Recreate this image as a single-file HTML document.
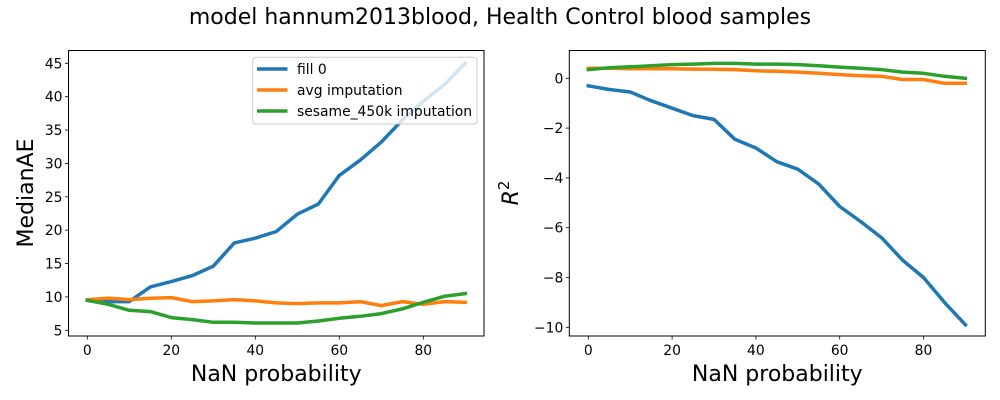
<!DOCTYPE html>
<html><head><meta charset="utf-8"><style>
html,body{margin:0;padding:0;background:#fff;}
svg{display:block;font-family:"DejaVu Sans","Liberation Sans",sans-serif;}
</style></head><body>
<svg id="chart" width="1000" height="400" viewBox="0 0 1000 400" xmlns="http://www.w3.org/2000/svg">
<rect width="1000" height="400" fill="#fff"/>
<text x="500" y="24" text-anchor="middle" font-size="22" fill="#000">model hannum2013blood, Health Control blood samples</text>
<g id="left"></g>
<g id="right"></g>
</svg>
<script>
const xCats = [0,5,10,15,20,25,30,35,40,45,50,55,60,65,70,75,80,85,90];
const xTicks = [0,20,40,60,80];
const maeFill0 = [9.5,9.3,9.3,11.5,12.3,13.2,14.6,18.1,18.8,19.8,22.4,23.9,28.2,30.5,33.2,36.5,39.3,41.8,45];
const maeAvg = [9.6,9.8,9.6,9.8,9.9,9.3,9.4,9.6,9.4,9.1,9.0,9.1,9.1,9.3,8.7,9.3,8.9,9.3,9.2];
const maeSesame = [9.5,8.9,8.0,7.8,6.9,6.6,6.2,6.2,6.1,6.1,6.1,6.4,6.8,7.1,7.5,8.2,9.2,10.1,10.5];
const maeTicks = [5,10,15,20,25,30,35,40,45];
const r2Fill0 = [-0.3,-0.45,-0.55,-0.9,-1.2,-1.5,-1.65,-2.45,-2.8,-3.35,-3.65,-4.25,-5.15,-5.75,-6.4,-7.3,-8.0,-9.0,-9.9];
const r2Avg = [0.4,0.4,0.38,0.38,0.38,0.37,0.36,0.35,0.3,0.28,0.25,0.2,0.15,0.1,0.08,-0.05,-0.05,-0.2,-0.2];
const r2Sesame = [0.35,0.42,0.46,0.5,0.55,0.57,0.6,0.6,0.57,0.57,0.55,0.5,0.45,0.4,0.35,0.25,0.2,0.08,0.0];
const r2Ticks = [0,-2,-4,-6,-8,-10];
const r2TickLabels = ["0","\u22122","\u22124","\u22126","\u22128","\u221210"];
const seriesNames = ["fill 0","avg imputation","sesame_450k imputation"];
const colors = ["#1f77b4","#ff7f0e","#2ca02c"];
const NS="http://www.w3.org/2000/svg";
function mk(parent,tag,attrs,text){const e=document.createElementNS(NS,tag);for(const k in attrs)e.setAttribute(k,attrs[k]);if(text!==undefined)e.textContent=text;parent.appendChild(e);return e;}

function panel(g,box,xmap,ymap,yTicks,yLabels,series,prefix){
  series.forEach((vals,si)=>{
    const pts=vals.map((v,i)=>xmap(xCats[i]).toFixed(1)+","+ymap(v).toFixed(1)).join(" ");
    const pl=mk(g,"polyline",{points:pts,fill:"none",stroke:colors[si],"stroke-width":3.5,"stroke-linejoin":"round","stroke-linecap":"square"});
    
    
  });
  const fr=mk(g,"rect",{x:box.x0,y:box.y0,width:box.x1-box.x0,height:box.y1-box.y0,fill:"none",stroke:"#000","stroke-width":1});
  
  
  xTicks.forEach(t=>{
    const x=xmap(t);
    mk(g,"line",{x1:x,x2:x,y1:box.y1,y2:box.y1+3.5,stroke:"#000","stroke-width":0.8});
    const tl=mk(g,"text",{x:x,y:box.y1+19,"text-anchor":"middle","font-size":"13.9"},String(t));
    
    
  });
  yTicks.forEach((t,i)=>{
    const y=ymap(t);
    mk(g,"line",{x1:box.x0-3.5,x2:box.x0,y1:y,y2:y,stroke:"#000","stroke-width":0.8});
    const tl=mk(g,"text",{x:box.x0-6,y:y+5,"text-anchor":"end","font-size":"13.9"},yLabels[i]);
    
    
  });
  const xt=mk(g,"text",{x:(box.x0+box.x1)/2,y:381,"text-anchor":"middle","font-size":"22"},"NaN probability");
  
  
}

const L={x0:68.5,x1:484,y0:50.5,y1:336};
const lx=v=>87.3+(v-0)*4.2;
const ly=v=>330.3-(v-5)*6.675;
const gl=document.getElementById("left");
panel(gl,L,lx,ly,maeTicks,maeTicks.map(String),[maeFill0,maeAvg,maeSesame],"mae");
const yt=mk(gl,"text",{x:0,y:0,"text-anchor":"middle","font-size":"22",transform:"translate(33,193) rotate(-90)"},"MedianAE");


const lg=mk(gl,"g",{});


mk(lg,"rect",{x:252.7,y:57.3,width:224.3,height:66.7,rx:3,fill:"#fff","fill-opacity":0.8,stroke:"#ccc","stroke-width":1});
seriesNames.forEach((n,i)=>{
  const y=69+i*21;
  const en=mk(lg,"g",{});
  
  
  mk(en,"line",{x1:257,x2:287.5,y1:y,y2:y,stroke:colors[i],"stroke-width":3.5});
  mk(en,"text",{x:297,y:y+5,"font-size":"13.9"},n);
});

const R={x0:569.3,x1:985.3,y0:50.5,y1:336};
const rx=v=>588.3+v*4.19;
const ry=v=>78.3-v*24.9;
const gr=document.getElementById("right");
panel(gr,R,rx,ry,r2Ticks,r2TickLabels,[r2Fill0,r2Avg,r2Sesame],"r2");
const yt2=mk(gr,"text",{x:0,y:0,"text-anchor":"middle","font-size":"22","font-style":"italic",transform:"translate(518,193) rotate(-90)"});


yt2.innerHTML='R<tspan dy="-9" font-size="15" font-style="normal">2</tspan>';
</script>
</body></html>
